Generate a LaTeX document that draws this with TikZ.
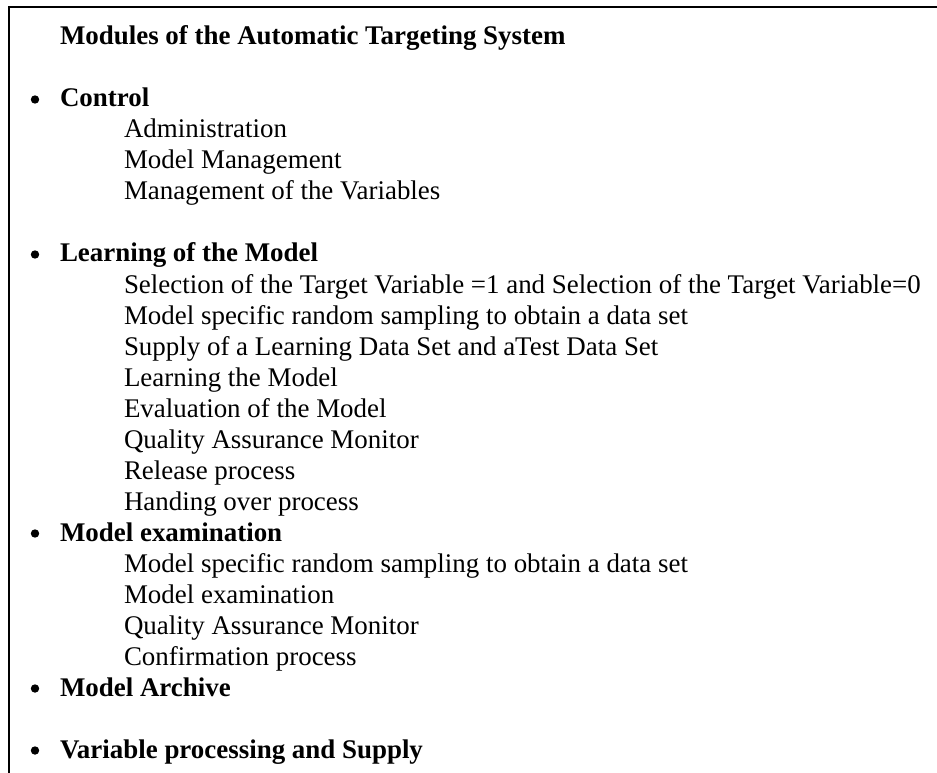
\documentclass[tikz,border=0pt]{standalone}
\usepackage{fontspec}
\setmainfont{Liberation Serif}
\begin{document}
\begin{tikzpicture}[x=0.75pt,y=-0.75pt,
  txt/.style={anchor=base west,inner sep=0pt,outer sep=0pt,font=\fontsize{20.2}{23}\selectfont},
  head/.style={txt,font=\fontsize{20.2}{23}\selectfont\bfseries},
  bul/.style={circle,fill=black,inner sep=0pt,outer sep=0pt,minimum size=6.3pt},
  frame/.style={line width=1.5pt,line cap=rect}]
\useasboundingbox (0,0) rectangle (937,773);
\fill[white] (0,0) rectangle (937,773);
\coordinate (tl) at (9,7);
\coordinate (tr) at (937,7);
\coordinate (bl) at (9,773);
\draw[frame] (tr) -- (tl) -- (bl);
\def\L#1{45+31*#1}
\def\B#1{37.5+31*#1}
\node[head] (title) at (60,{\L{0}}) {Modules of the Automatic Targeting System};
\node[bul] (b1) at (35,{\B{2}}) {};
\node[head] (h1) at (60,{\L{2}}) {Control};
\node[txt] (c1) at (124,{\L{3}}) {Administration};
\node[txt] (c2) at (124,{\L{4}}) {Model Management};
\node[txt] (c3) at (124,{\L{5}}) {Management of the Variables};
\node[bul] (b2) at (35,{\B{7}}) {};
\node[head] (h2) at (60,{\L{7}}) {Learning of the Model};
\node[txt] (l1) at (124,{\L{8}}) {Selection of the Target Variable =1 and Selection of the Target Variable=0};
\node[txt] (l2) at (124,{\L{9}}) {Model specific random sampling to obtain a data set};
\node[txt] (l3) at (124,{\L{10}}) {Supply of a Learning Data Set and aTest Data Set};
\node[txt] (l4) at (124,{\L{11}}) {Learning the Model};
\node[txt] (l5) at (124,{\L{12}}) {Evaluation of the Model};
\node[txt] (l6) at (124,{\L{13}}) {Quality Assurance Monitor};
\node[txt] (l7) at (124,{\L{14}}) {Release process};
\node[txt] (l8) at (124,{\L{15}}) {Handing over process};
\node[bul] (b3) at (35,{\B{16}}) {};
\node[head] (h3) at (60,{\L{16}}) {Model examination};
\node[txt] (m1) at (124,{\L{17}}) {Model specific random sampling to obtain a data set};
\node[txt] (m2) at (124,{\L{18}}) {Model examination};
\node[txt] (m3) at (124,{\L{19}}) {Quality Assurance Monitor};
\node[txt] (m4) at (124,{\L{20}}) {Confirmation process};
\node[bul] (b4) at (35,{\B{21}}) {};
\node[head] (h4) at (60,{\L{21}}) {Model Archive};
\node[bul] (b5) at (35,{\B{23}}) {};
\node[head] (h5) at (60,{\L{23}}) {Variable processing and Supply};
\end{tikzpicture}
\end{document}
